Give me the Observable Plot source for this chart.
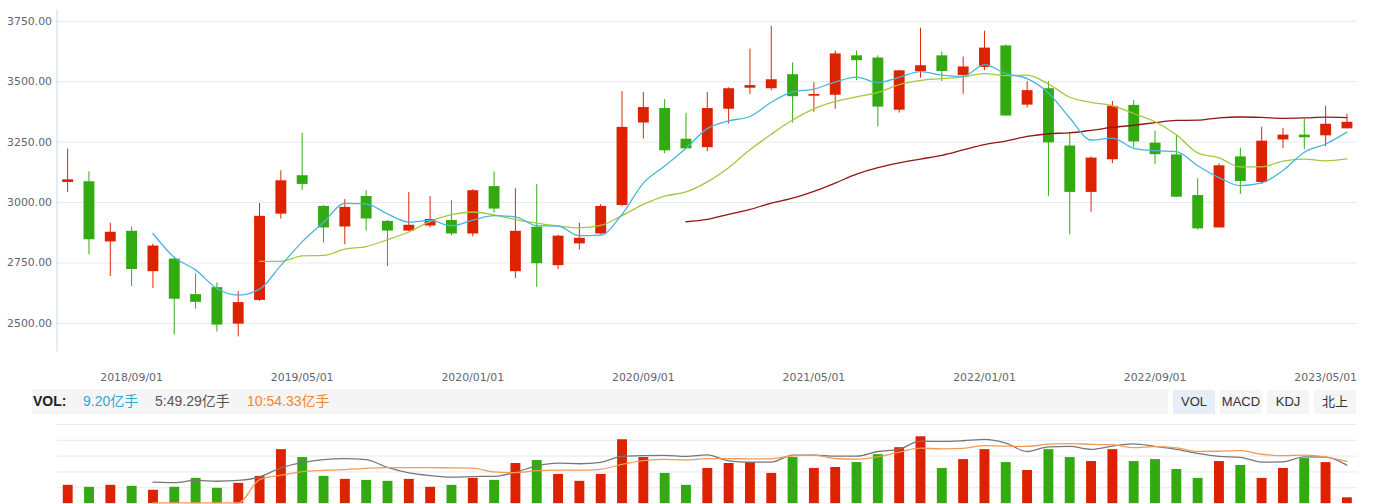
<!DOCTYPE html>
<html><head><meta charset="utf-8">
<script src="https://cdn.jsdelivr.net/npm/d3@7"></script>
<script src="https://cdn.jsdelivr.net/npm/@observablehq/plot@0.6"></script>
<style>
body{margin:0;background:#fff;}
#wrap{position:relative;width:1372px;height:504px;overflow:hidden;font-family:"Liberation Sans","Noto Sans CJK SC",sans-serif;}
.abs{position:absolute;left:0;}
#hdr{position:absolute;left:32px;top:389px;width:1136px;height:25px;background:#f5f5f5;font-size:14px;line-height:25px;white-space:nowrap;}
#hdr span{position:absolute;top:0;}
.btn{position:absolute;top:390px;width:42px;height:24px;background:#f5f5f5;color:#333;font-size:13px;line-height:24px;text-align:center;}
</style></head>
<body><div id="wrap">
<div id="main" class="abs" style="top:0"></div>
<div id="hdr"></div>
<div id="btns"></div>
<div id="volbars" class="abs" style="top:414px"></div>
<div id="vollines" class="abs" style="top:414px"></div>
</div>
<script>
// ---- data (monthly, Shanghai Composite style) ----
const months = ["2018/05","2018/06","2018/07","2018/08","2018/09","2018/10","2018/11","2018/12",
"2019/01","2019/02","2019/03","2019/04","2019/05","2019/06","2019/07","2019/08","2019/09","2019/10","2019/11","2019/12",
"2020/01","2020/02","2020/03","2020/04","2020/05","2020/06","2020/07","2020/08","2020/09","2020/10","2020/11","2020/12",
"2021/01","2021/02","2021/03","2021/04","2021/05","2021/06","2021/07","2021/08","2021/09","2021/10","2021/11","2021/12",
"2022/01","2022/02","2022/03","2022/04","2022/05","2022/06","2022/07","2022/08","2022/09","2022/10","2022/11","2022/12",
"2023/01","2023/02","2023/03","2023/04","2023/05"];
const open  = [3083,3086,2837,2881,2714,2766,2619,2648,2497,2595,2952,3111,2984,2899,3025,2922,2882,2903,2926,2870,3066,2714,2898,2739,2829,2870,2988,3329,3389,3262,3227,3386,3473,3471,3529,3440,3444,3607,3598,3382,3542,3607,3526,3559,3648,3403,3471,3234,3042,3177,3402,3246,3197,3029,2895,3189,3083,3259,3279,3276,3305];
const close = [3094,2846,2877,2723,2820,2600,2587,2493,2586,2943,3090,3075,2895,2980,2932,2882,2906,2930,2870,3049,2973,2881,2747,2861,2852,2984,3311,3393,3214,3222,3389,3471,3484,3508,3438,3447,3615,3587,3395,3545,3566,3542,3561,3639,3358,3463,3247,3042,3184,3398,3251,3198,3022,2891,3152,3087,3254,3279,3268,3324,3332];
const high  = [3221,3127,2914,2898,2828,2770,2705,2668,2631,2996,3131,3287,2988,3012,3049,2926,3041,3025,3008,3053,3127,3057,3074,2865,2914,2992,3459,3455,3426,3369,3455,3475,3635,3729,3578,3496,3627,3627,3607,3547,3721,3623,3602,3709,3652,3500,3500,3291,3189,3418,3422,3295,3279,3098,3160,3225,3311,3307,3344,3398,3365];
const low   = [3042,2784,2694,2653,2645,2452,2559,2464,2444,2591,2932,3050,2833,2825,2882,2735,2880,2895,2862,2858,2956,2686,2649,2723,2804,2866,2984,3263,3202,3220,3210,3325,3447,3463,3329,3374,3386,3505,3313,3370,3514,3501,3448,3546,3357,3391,3026,2866,2960,3161,3227,3157,3021,2886,2895,3034,3075,3223,3218,3231,3305];
// moving averages (leading slots empty)
const ma5  = [null,null,null,null,2872,2773.2,2721.4,2644.6,2617.2,2641.8,2739.8,2837.4,2917.8,2996.6,2994.4,2952.8,2919,2926,2904,2927.4,2945.6,2940.6,2904,2902.2,2862.8,2865,2951,3080.2,3150.8,3224.8,3305.8,3337.8,3356,3414.8,3458,3469.6,3498.4,3519,3496.4,3517.8,3541.6,3527,3521.8,3570.6,3533.2,3512.6,3453.6,3349.8,3258.8,3266.8,3224.4,3214.6,3210.6,3152,3102.8,3070,3081.2,3132.6,3208,3242.4,3291.4];
const ma10 = [null,null,null,null,null,null,null,null,null,2756.9,2756.5,2779.4,2781.2,2806.9,2818.1,2846.3,2878.2,2921.9,2950.3,2960.9,2949.2,2929.8,2915,2903.1,2895.1,2905.3,2945.8,2992.1,3026.5,3043.8,3085.4,3144.4,3218.1,3282.8,3341.4,3387.7,3418.1,3437.5,3455.6,3487.9,3505.6,3512.7,3520.4,3533.5,3525.5,3527.1,3490.3,3435.8,3414.7,3400,3368.5,3334.1,3280.2,3205.4,3184.8,3147.2,3147.9,3171.6,3180,3172.6,3180.7];
const ma30 = [null,null,null,null,null,null,null,null,null,null,null,null,null,null,null,null,null,null,null,null,null,null,null,null,null,null,null,null,null,2920.5,2930.4,2951.2,2971.4,2997.6,3018.2,3046.4,3080.7,3117.2,3144.1,3164.2,3180.1,3195.6,3217.8,3239.8,3254,3273.4,3284.7,3288.5,3298.9,3310.6,3319.8,3330.4,3339.6,3340.6,3350.6,3354,3352.1,3348.3,3350.1,3353.5,3351.6];
// volume (亿手)
const volume = [28.9,25.8,28.9,27.3,21.1,25.8,39.8,24.2,32.0,43.0,85.2,72.7,43.0,38.3,36.7,35.2,38.3,25.8,28.9,39.8,36.7,63.3,68.0,46.1,35.2,46.1,100.8,72.7,47.7,28.9,55.5,63.3,64.8,47.7,72.7,55.5,57.0,64.8,77.3,88.3,105.5,55.5,69.5,85.2,64.8,52.3,85.2,72.7,66.4,85.2,66.4,69.5,53.9,39.8,66.4,60.2,39.8,55.5,71.1,64.8,9.2];
const vma5  = [null,null,null,null,26.4,25.8,28.6,27.6,28.6,33.0,44.8,51.4,55.2,56.4,55.2,45.2,38.3,34.9,33.0,33.6,33.9,38.9,47.3,50.8,49.9,51.7,59.2,60.2,60.5,59.2,61.1,53.6,52.0,52.0,60.8,60.8,59.5,59.5,65.5,68.6,78.6,78.3,79.2,80.8,76.1,65.5,71.4,72.0,68.3,72.4,75.2,72.0,68.3,63.0,59.2,58.0,52.0,52.3,58.6,58.3,48.1];
const vma10 = [null,null,null,null,0,0,0,0,0,29.7,35.3,40.0,41.4,42.5,44.1,45.0,44.9,45.0,44.7,44.4,39.5,38.6,41.1,41.9,41.7,42.8,49.1,53.8,55.6,54.6,56.4,56.4,56.1,56.3,60.0,61.0,56.6,55.8,58.8,64.7,69.7,68.9,69.4,73.1,72.3,72.0,74.8,75.6,74.5,74.2,70.3,71.7,70.2,65.6,65.8,66.6,62.0,60.3,60.8,58.7,53.0];
const yTicks = [2500, 2750, 3000, 3250, 3500, 3750];
const volTicks = [25, 50, 75, 100, 125];
const tickLabels = ["2018/09/01","2019/05/01","2020/01/01","2020/09/01","2021/05/01","2022/01/01","2022/09/01","2023/05/01"];
const header = {vol: "9.20", ma5: "49.29", ma10: "54.33", unit: "亿手"};
const buttons = ["VOL", "MACD", "KDJ", "北上"];

// ---- styles ----
const RED = "#dd2200", GREEN = "#33aa11";
const C_MA5 = "#45b6dc", C_MA10 = "#a2c83c", C_MA30 = "#961416";
const C_VMA5 = "#777777", C_VMA10 = "#f29a55";

const candles = months.map((m, i) => ({i, m, open: open[i], close: close[i], high: high[i], low: low[i]}));
const col = d => d.close >= d.open ? RED : GREEN;
const series = arr => arr.map((v, i) => ({i, v})).filter(d => d.v != null);
// the reference draws each date label one slot before its month
const tickIdx = tickLabels.map(t => months.indexOf(t.slice(0, 7)) - 1);
const labelAt = new Map(tickIdx.map((k, j) => [k, tickLabels[j]]));
const xDomain = [-0.5, months.length - 0.5];

const main = Plot.plot({
  width: 1385, height: 390,
  marginLeft: 57, marginRight: 15, marginTop: 10, marginBottom: 35,
  style: {fontFamily: "DejaVu Sans, sans-serif", fontSize: "11px", color: "#5f6570", background: "transparent"},
  x: {domain: xDomain, ticks: tickIdx, tickFormat: i => labelAt.get(i), tickSize: 0, tickPadding: 21, label: null},
  y: {domain: [2381, 3795], ticks: yTicks, tickFormat: d => d.toFixed(2), tickSize: 0, tickPadding: 5, label: null},
  marks: [
    Plot.ruleY(yTicks, {stroke: "#e6e9ef"}),
    Plot.ruleX([xDomain[0]], {stroke: "#c9d8ea"}),
    Plot.ruleX(candles, {x: "i", y1: "low", y2: "high", stroke: col, strokeWidth: 1}),
    Plot.ruleX(candles, {x: "i", y1: "open", y2: "close", stroke: col, strokeWidth: 11}),
    Plot.line(series(ma30), {x: "i", y: "v", stroke: C_MA30, strokeWidth: 1.3, curve: "monotone-x"}),
    Plot.line(series(ma10), {x: "i", y: "v", stroke: C_MA10, strokeWidth: 1.3, curve: "monotone-x"}),
    Plot.line(series(ma5), {x: "i", y: "v", stroke: C_MA5, strokeWidth: 1.3, curve: "monotone-x"})
  ]
});
document.getElementById("main").appendChild(main);

// header bar
const hdr = document.getElementById("hdr");
const spans = [
  {t: "VOL:", left: 1, c: "#222", b: true},
  {t: header.vol + header.unit, left: 51, c: "#2ea7da"},
  {t: "5:" + header.ma5 + header.unit, left: 123, c: "#555"},
  {t: "10:" + header.ma10 + header.unit, left: 215, c: "#f0872c"}
];
spans.forEach(s => {
  const e = document.createElement("span");
  e.textContent = s.t; e.style.left = s.left + "px"; e.style.color = s.c;
  if (s.b) e.style.fontWeight = "bold";
  hdr.appendChild(e);
});
const btns = document.getElementById("btns");
buttons.forEach((b, j) => {
  const e = document.createElement("div");
  e.className = "btn"; e.textContent = b;
  e.style.left = (1173 + j * 47) + "px";
  if (j === 0) e.style.background = "#e6eef8";
  btns.appendChild(e);
});

// volume bars
const volData = candles.map(d => ({i: d.i, v: volume[d.i], c: col(d)}));
const vb = Plot.plot({
  width: 1385, height: 100, marginLeft: 57, marginRight: 15, marginTop: 10, marginBottom: 10,
  style: {background: "transparent"},
  x: {domain: xDomain, axis: null},
  y: {domain: [0, 125], axis: null},
  marks: [
    Plot.ruleY(volTicks, {stroke: "#e6e9ef"}),
    Plot.ruleX(volData, {x: "i", y1: 0, y2: "v", stroke: "c", strokeWidth: 10})
  ]
});
document.getElementById("volbars").appendChild(vb);

// volume moving averages (own scale, as in the reference)
const vl = Plot.plot({
  width: 1385, height: 100, marginLeft: 57, marginRight: 15, marginTop: 10, marginBottom: 10.7,
  style: {background: "transparent"},
  x: {domain: xDomain, axis: null},
  y: {domain: [0, 100], axis: null},
  marks: [
    Plot.line(series(vma5), {x: "i", y: "v", stroke: C_VMA5, strokeWidth: 1.3, curve: "monotone-x"}),
    Plot.line(series(vma10), {x: "i", y: "v", stroke: C_VMA10, strokeWidth: 1.3, curve: "monotone-x"})
  ]
});
document.getElementById("vollines").appendChild(vl);
</script>
</body></html>
